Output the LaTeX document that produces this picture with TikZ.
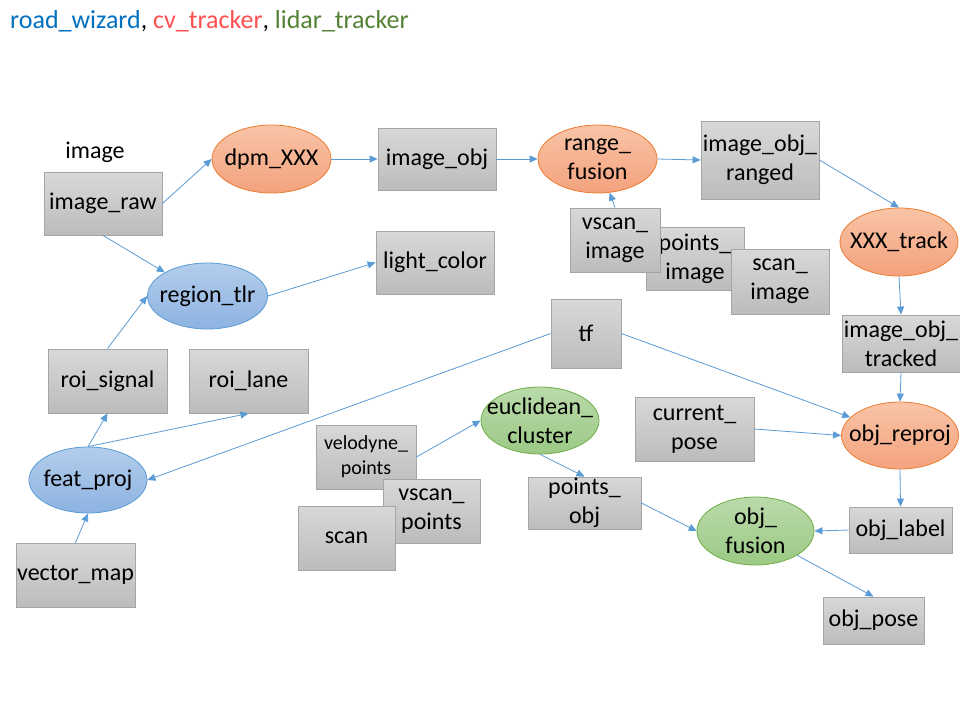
\documentclass[tikz,border=0pt]{standalone}
\usepackage{fontspec}
\setmainfont{Carlito}
\usetikzlibrary{shapes.geometric,arrows.meta}
\definecolor{boxtop}{HTML}{D8D8D8}
\definecolor{boxbot}{HTML}{BCBCBC}
\definecolor{boxline}{HTML}{A5A5A5}
\definecolor{ortop}{HTML}{F8C4A6}
\definecolor{orbot}{HTML}{F4A27E}
\definecolor{orline}{HTML}{ED7D31}
\definecolor{bltop}{HTML}{B3CDEB}
\definecolor{blbot}{HTML}{8DB3E2}
\definecolor{blline}{HTML}{5B9BD5}
\definecolor{grtop}{HTML}{BADAAB}
\definecolor{grbot}{HTML}{9BC984}
\definecolor{grline}{HTML}{70AD47}
\definecolor{edgecol}{HTML}{5B9BD5}
\definecolor{titleblue}{HTML}{0070C0}
\definecolor{titlered}{HTML}{FF5050}
\definecolor{titlegreen}{HTML}{548235}
\begin{document}
\begin{tikzpicture}[x=1pt,y=-1pt,
  txt/.style={font=\fontsize{24}{29}\selectfont, align=center, inner sep=0pt},
  box/.style={txt, draw=boxline, line width=0.8pt, top color=boxtop, bottom color=boxbot},
  oval/.style={ellipse, inner sep=0pt, line width=0.8pt},
  orange/.style={oval, draw=orline, top color=ortop, bottom color=orbot},
  blue/.style={oval, draw=blline, top color=bltop, bottom color=blbot},
  green/.style={oval, draw=grline, top color=grtop, bottom color=grbot},
  inside/.style={label={[txt]center:{#1}}},
  sz/.style 2 args={minimum width=#1pt, minimum height=#2pt},
  link/.style={draw=edgecol, line width=0.8pt, -{Triangle[length=8pt,width=7pt]}}
]
\useasboundingbox (0,0) rectangle (960,720);
\fill[white] (0,0) rectangle (960,720);

% title
\node[anchor=base west, inner sep=0pt, font=\fontsize{26}{31}\selectfont] (title) at (10,28)
  {\textcolor{titleblue}{road\_wizard}, \textcolor{titlered}{cv\_tracker}, \textcolor{titlegreen}{lidar\_tracker}};

\node[txt] (imagelabel) at (95,152) {image};

% boxes and ovals
\node[box, sz={118}{63}] (image_raw) at (103,203.5) {image\_raw};
\node[orange, sz={119}{68}, inside={dpm\_XXX}] (dpm) at (271.5,159) {};
\node[box, sz={118}{62}] (image_obj) at (437,159) {image\_obj};
\node[orange, sz={119}{68}, inside={range\_\\fusion}] (range_fusion) at (597.5,159) {};
\node[box, sz={118}{78}] (ranged) at (760,160) {image\_obj\_\\ranged};
\node[box, sz={98}{63}] (points_image) at (695,258.5) {points\_\\image};
\node[box, sz={90}{64}] (vscan_image) at (615,240) {vscan\_\\image};
\node[box, sz={98}{65}] (scan_image) at (780,281.5) {scan\_\\image};
\node[orange, sz={118}{68}, inside={XXX\_track}] (xxx_track) at (899,242) {};
\node[box, sz={118}{57}] (tracked) at (901,343.5) {image\_obj\_\\tracked};
\node[box, sz={118}{63}] (light_color) at (435,262.5) {light\_color};
\node[blue, sz={120}{66}, inside={region\_tlr}] (region_tlr) at (207.5,296) {};
\node[box, sz={119}{64}] (roi_signal) at (107.5,381) {roi\_signal};
\node[box, sz={119}{64}] (roi_lane) at (248.5,381) {roi\_lane};
\node[blue, sz={118}{66}, inside={feat\_proj}] (feat_proj) at (88,480) {};
\node[box, sz={119}{64}] (vector_map) at (75.5,575) {vector\_map};
\node[box, sz={70}{69}] (tf) at (586,333.5) {tf};
\node[green, sz={118}{67}, inside={euclidean\_\\cluster}] (euclid) at (540,420.5) {};
\node[box, sz={100}{64}, font=\fontsize{20}{25}\selectfont] (velodyne) at (366,457) {velodyne\_\\points};
\node[box, sz={97}{64}] (vscan_points) at (431.5,511) {vscan\_\\points};
\node[box, sz={97}{64}] (scan) at (346.5,538) {scan};
\node[box, sz={113}{52}] (points_obj) at (584.5,503) {points\_\\obj};
\node[box, sz={119}{64}] (current_pose) at (694.5,429) {current\_\\pose};
\node[orange, sz={117}{67}, inside={obj\_reproj}] (obj_reproj) at (900,435.5) {};
\node[box, sz={103}{46}] (obj_label) at (900.5,530) {obj\_label};
\node[green, sz={117}{68}, inside={obj\_\\fusion}] (obj_fusion) at (755.5,531) {};
\node[box, sz={101}{47}] (obj_pose) at (873.5,620.5) {obj\_pose};

% connectors
\draw[link] (image_raw.east) -- (dpm.west);
\draw[link] (image_raw.south) -- (region_tlr.north west);
\draw[link] (dpm.east) -- (image_obj.west);
\draw[link] (image_obj.east) -- (range_fusion.west);
\draw[link] (range_fusion.east) -- (ranged.west);
\draw[link] (ranged.east) -- (xxx_track.north);
\draw[link] (vscan_image.north) -- (range_fusion);
\draw[link] (xxx_track.south) -- (tracked.north);
\draw[link] (region_tlr.east) -- (light_color.west);
\draw[link] (roi_signal.north) -- (region_tlr.west);
\draw[link] (feat_proj.north) -- (roi_signal.south);
\draw[link] (feat_proj.north) -- (roi_lane.south);
\draw[link] (vector_map.north) -- (feat_proj.south);
\draw[link] (tf.west) -- (feat_proj.east);
\draw[link] (tf.east) -- (obj_reproj);
\draw[link] (tracked.south) -- (obj_reproj.north);
\draw[link] (current_pose.east) -- (obj_reproj.west);
\draw[link] (obj_reproj.south) -- (obj_label.north);
\draw[link] (obj_label.west) -- (obj_fusion.east);
\draw[link] (velodyne.east) -- (euclid.west);
\draw[link] (euclid.south) -- (points_obj.north);
\draw[link] (points_obj.east) -- (obj_fusion.west);
\draw[link] (obj_fusion.south east) -- (obj_pose.north);
\end{tikzpicture}
\end{document}
